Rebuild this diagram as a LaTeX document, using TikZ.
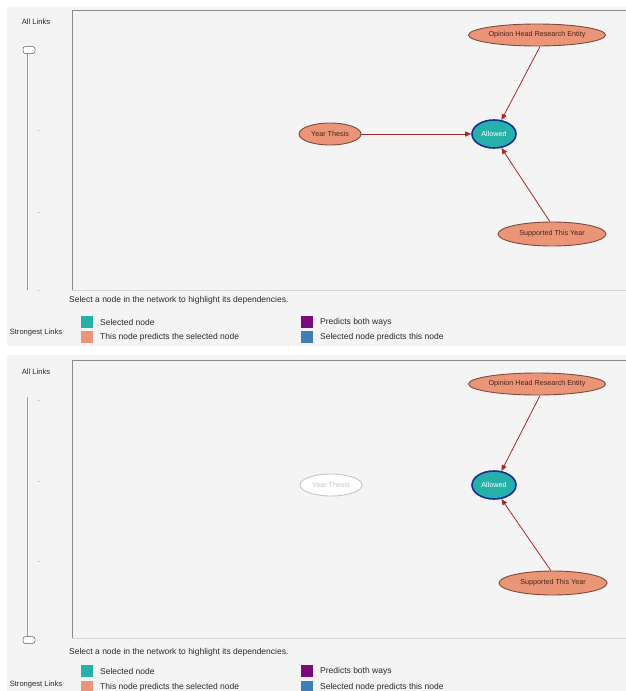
\documentclass[tikz,border=0pt]{standalone}
\usepackage{fontspec}
\setmainfont{Liberation Sans}
\usetikzlibrary{arrows.meta,shapes.geometric}
\definecolor{panelbg}{HTML}{F4F4F4}
\definecolor{framedark}{HTML}{8A8A8A}
\definecolor{framelight}{HTML}{D4D4D4}
\definecolor{salmonfill}{HTML}{EA9478}
\definecolor{salmonedge}{HTML}{7E4A3C}
\definecolor{salmontext}{HTML}{4A2418}
\definecolor{tealfill}{HTML}{26B0AA}
\definecolor{tealedge}{HTML}{1B2C94}
\definecolor{linkred}{HTML}{A8282A}
\definecolor{purplekey}{HTML}{7A0A7E}
\definecolor{bluekey}{HTML}{3F7EB6}
\definecolor{ghost}{HTML}{C6C6C6}
\definecolor{uitext}{HTML}{2A2A2A}
\tikzset{
  nodefont/.style={font=\fontsize{7.2}{8}\selectfont},
  predictor/.style={ellipse, draw=salmonedge, line width=0.9pt, fill=salmonfill,
    text=salmontext, nodefont, inner sep=0pt},
  selected/.style={ellipse, draw=tealedge, line width=1.6pt, fill=tealfill,
    text=white, nodefont, inner sep=0pt,
    minimum width=44pt, minimum height=28pt},
  faded/.style={ellipse, draw=ghost, line width=0.9pt, fill=white,
    text=ghost, nodefont, inner sep=0pt},
  link/.style={draw=linkred, line width=0.8pt, -{Triangle[length=6pt,width=5pt]}},
  uilabel/.style={font=\fontsize{8.5}{9}\selectfont, text=uitext, inner sep=0pt, anchor=west},
  sliderlabel/.style={font=\fontsize{7.6}{8}\selectfont, text=uitext, inner sep=0pt, anchor=center},
  keybox/.style={draw=none, minimum width=12pt, minimum height=12pt, inner sep=0pt},
  knob/.style={draw=gray!70!black, fill=white, rounded corners=2.5pt, line width=0.5pt,
    minimum width=12pt, minimum height=7pt, inner sep=0pt},
  tick/.style={draw=framelight, line width=0.6pt},
}
\begin{document}
\begin{tikzpicture}[x=1pt,y=-1pt]
\useasboundingbox (0,0) rectangle (626,691);
\fill[white] (0,0) rectangle (626,691);

% ---------------- upper panel ----------------
\fill[panelbg] (7,7) rectangle (626,346);
\draw[framelight, line width=0.6pt] (72,290) -- (626,290);
\draw[framedark, line width=0.9pt] (72,290) -- (72,10) -- (626,10);

\node[sliderlabel] (alla) at (36,22) {All Links};
\node[sliderlabel] (stra) at (36,333) {Strongest Links};
\draw[gray!80, line width=0.7pt] (27,53) -- (27,290);
\draw[white, line width=0.5pt] (28.2,53) -- (28.2,290);
\node[knob] (knoba) at (29,50) {};
\draw[tick] (37,130) -- (40,130);
\draw[tick] (37,212) -- (40,212);
\draw[tick] (37,290) -- (40,290);

\node[predictor, minimum width=134pt, minimum height=22pt] (opa) at (537,35) {Opinion Head Research Entity};
\node[predictor, minimum width=62pt, minimum height=22pt] (yta) at (330,134) {Year Thesis};
\node[selected] (ala) at (494,134) {Allowed};
\node[predictor, minimum width=108pt, minimum height=24pt] (supa) at (552,234) {Supported This Year};

\draw[link] (opa.-75) -- (ala.62);
\draw[link] (yta) -- (ala);
\draw[link] (supa.100) -- (ala.-62);

\node[uilabel] (hinta) at (69,300) {Select a node in the network to highlight its dependencies.};
\node[keybox, fill=tealfill] (k1a) at (87,322) {};
\node[uilabel] at (100,322) {Selected node};
\node[keybox, fill=salmonfill] (k2a) at (87,337) {};
\node[uilabel] at (100,337) {This node predicts the selected node};
\node[keybox, fill=purplekey] (k3a) at (307,322) {};
\node[uilabel] at (320,322) {Predicts both ways};
\node[keybox, fill=bluekey] (k4a) at (307,337) {};
\node[uilabel] at (320,337) {Selected node predicts this node};

% ---------------- lower panel ----------------
\fill[panelbg] (7,355) rectangle (626,691);
\draw[framelight, line width=0.6pt] (72,638) -- (626,638);
\draw[framedark, line width=0.9pt] (72,638) -- (72,360) -- (626,360);

\node[sliderlabel] (allb) at (36,372) {All Links};
\node[sliderlabel] (strb) at (36,685) {Strongest Links};
\draw[gray!80, line width=0.7pt] (27,397) -- (27,638);
\draw[white, line width=0.5pt] (28.2,397) -- (28.2,638);
\node[knob] (knobb) at (29,640) {};
\draw[tick] (37,400) -- (40,400);
\draw[tick] (37,481) -- (40,481);
\draw[tick] (37,561) -- (40,561);

\node[predictor, minimum width=134pt, minimum height=22pt] (opb) at (537,384) {Opinion Head Research Entity};
\node[faded, minimum width=62pt, minimum height=22pt] (ytb) at (331,485) {Year Thesis};
\node[selected] (alb) at (494,485) {Allowed};
\node[predictor, minimum width=108pt, minimum height=24pt] (supb) at (553,583) {Supported This Year};

\draw[link] (opb.-75) -- (alb.62);
\draw[link] (supb.100) -- (alb.-62);

\node[uilabel] (hintb) at (69,652) {Select a node in the network to highlight its dependencies.};
\node[keybox, fill=tealfill] (k1b) at (87,671) {};
\node[uilabel] at (100,671) {Selected node};
\node[keybox, fill=salmonfill] (k2b) at (87,687) {};
\node[uilabel] at (100,687) {This node predicts the selected node};
\node[keybox, fill=purplekey] (k3b) at (307,671) {};
\node[uilabel] at (320,671) {Predicts both ways};
\node[keybox, fill=bluekey] (k4b) at (307,687) {};
\node[uilabel] at (320,687) {Selected node predicts this node};
\end{tikzpicture}
\end{document}
